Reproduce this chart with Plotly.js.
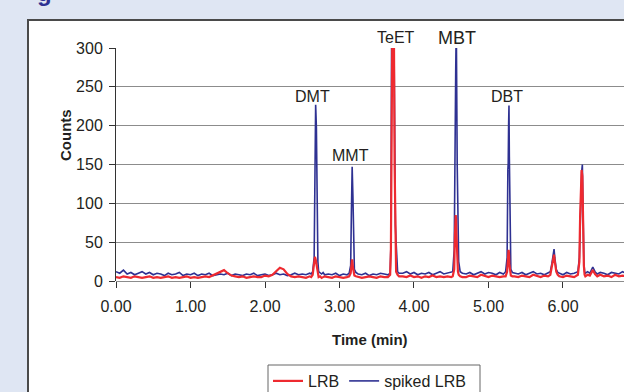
<!DOCTYPE html>
<html>
<head>
<meta charset="utf-8">
<script src="https://cdn.plot.ly/plotly-3.0.1.min.js"></script>
<style>
  html, body { margin:0; padding:0; width:624px; height:392px; overflow:hidden; background:#dfe6f3; }
  #frag { position:absolute; left:37px; top:-19px; font:bold 24px/24px "Liberation Sans", Arial, sans-serif; color:#2e3192; }
  #box { position:absolute; left:27px; top:19px; width:597px; height:373px; border-left:2px solid #4a4a4a; border-top:2px solid #4a4a4a; background:#fff; }
  #chart { width:595px; height:371px; }
</style>
</head>
<body>
<div id="frag">g</div>
<div id="box"><div id="chart"></div></div>
<script>
// Retention time (min)
const time = [
  0.00,0.05,0.10,0.15,0.20,0.25,0.30,0.35,0.40,0.45,0.50,0.55,0.60,0.65,0.70,0.75,0.80,0.85,0.90,0.95,
  1.00,1.05,1.10,1.15,1.20,1.25,1.30,1.35,1.40,1.45,1.50,1.55,1.60,1.65,1.70,1.75,1.80,1.85,1.90,1.95,
  2.00,2.05,2.10,2.15,2.20,2.25,2.30,2.35,2.40,2.45,2.50,2.55,2.60,
  2.62,2.64,2.66,2.67,2.68,2.69,2.70,2.71,2.72,2.74,2.76,2.78,2.80,
  2.85,2.90,2.95,3.00,3.05,3.10,
  3.13,3.15,3.16,3.17,3.18,3.19,3.20,3.22,3.25,
  3.30,3.35,3.40,3.45,3.50,3.55,3.60,3.65,
  3.68,3.69,3.70,3.71,3.72,3.73,3.74,3.75,3.76,3.78,3.80,
  3.85,3.90,3.95,4.00,4.05,4.10,4.15,4.20,4.25,4.30,4.35,4.40,4.45,4.50,
  4.52,4.54,4.55,4.56,4.565,4.57,4.58,4.59,4.60,4.62,4.65,
  4.70,4.75,4.80,4.85,4.90,4.95,5.00,5.05,5.10,5.15,5.20,
  5.23,5.25,5.26,5.265,5.27,5.275,5.28,5.29,5.30,5.32,
  5.35,5.40,5.45,5.50,5.55,5.60,5.65,5.70,5.75,5.80,
  5.83,5.85,5.87,5.88,5.89,5.91,5.93,
  5.95,6.00,6.05,6.10,6.15,6.20,
  6.22,6.23,6.24,6.25,6.26,6.27,6.28,6.29,6.30,
  6.33,6.36,6.40,6.43,6.46,6.50,6.55,6.60,6.65,6.70,6.75,6.80,6.85
];
// Counts, spiked LRB (blue)
const spikedLRB = [
  12,10,14,9,11,8,10,12,9,11,8,10,9,7,10,8,9,11,7,9,
  8,10,7,9,8,10,7,8,9,8,10,7,9,8,7,9,8,10,7,8,
  9,7,8,10,8,9,7,8,10,8,9,8,10,
  9,12,30,120,227,197,60,25,12,10,9,11,8,
  9,8,10,7,9,8,
  10,20,90,147,110,40,15,11,9,
  8,10,7,9,8,10,9,8,
  10,45,330,345,345,335,160,72,50,12,10,
  10,12,9,11,8,10,9,11,8,10,12,9,10,11,
  12,40,263,270,310,300,150,57,25,12,10,
  9,11,8,10,12,9,11,10,8,11,9,
  12,30,143,152,200,226,160,50,15,11,
  10,9,11,8,10,12,9,10,8,11,
  12,22,38,41,30,15,11,
  10,8,11,9,10,12,
  30,83,120,140,150,80,25,12,10,
  12,10,18,12,9,11,10,8,11,10,9,12,10
];
// Counts, LRB (red)
const LRB = [
  5,4,6,5,4,6,5,4,5,6,4,5,4,5,6,4,5,4,5,6,
  4,5,4,5,6,5,7,9,11,14,10,7,6,5,6,4,5,6,5,5,
  7,6,8,13,17,15,9,6,5,6,5,4,6,
  5,8,20,31,28,22,12,7,5,6,4,5,6,
  5,4,6,5,4,5,
  6,10,22,28,18,10,7,6,5,
  4,5,6,5,4,6,5,5,
  8,40,320,340,340,330,150,30,12,8,6,
  6,5,7,5,6,4,6,5,7,5,6,5,6,5,
  6,15,60,85,80,60,30,12,8,6,5,
  5,7,6,5,8,6,5,7,6,5,6,
  6,12,25,35,40,36,22,10,7,6,
  6,5,7,6,5,8,6,5,7,6,
  8,18,30,34,25,12,8,
  6,5,7,6,5,8,
  25,83,110,143,135,70,20,8,6,
  8,7,14,9,6,8,6,7,5,8,6,7,6
];
const xTickVals = [0,1,2,3,4,5,6];
const xTickText = ["0.00","1.00","2.00","3.00","4.00","5.00","6.00"];
const yTickVals = [0,50,100,150,200,250,300];
const peakNames = ["DMT","MMT","TeET","MBT","DBT"];

const FONT = '"Liberation Sans", Arial, sans-serif';
const TXT = '#231f20';

const traces = [
  {x: time, y: spikedLRB, name: 'spiked LRB', type: 'scatter', mode: 'lines',
   line: {color: '#2e3192', width: 1.6}},
  {x: time, y: LRB, name: 'LRB', type: 'scatter', mode: 'lines',
   line: {color: '#ee2a30', width: 2.2}}
];

// label placement: [x (data), y, yref, font size]
const peakPos = [[2.644,238,'y',16],[3.154,162,'y',16],[3.758,1.047,'paper',16],[4.577,1.043,'paper',18],[5.248,237,'y',16]];
const annotations = peakNames.map((n,i) => ({
  text: n, x: peakPos[i][0], y: peakPos[i][1], xref: 'x', yref: peakPos[i][2], showarrow: false,
  xanchor: 'center', yanchor: 'middle',
  font: {family: FONT, size: peakPos[i][3], color: TXT}
}));
annotations.push({text: '<b>Time (min)</b>', xref: 'paper', yref: 'paper', x: 0.5, y: -0.249,
  xanchor: 'center', yanchor: 'middle',
  showarrow: false, font: {family: FONT, size: 15, color: TXT}});
annotations.push({text: '<b>Counts</b>', xref: 'paper', yref: 'paper', x: -0.1004, y: 0.6266,
  xanchor: 'center', yanchor: 'middle',
  textangle: -90, showarrow: false, font: {family: FONT, size: 15, color: TXT}});

const layout = {
  width: 595, height: 371,
  margin: {l: 87, r: 0, t: 27, b: 111, autoexpand: false},
  paper_bgcolor: '#ffffff', plot_bgcolor: '#ffffff',
  font: {family: FONT, size: 16, color: TXT},
  showlegend: true,
  legend: {orientation: 'h', xref: 'container', yref: 'container',
    x: (239)/595, xanchor: 'left', y: (371-360)/371, yanchor: 'middle',
    traceorder: 'reversed', borderwidth: 0, bgcolor: 'rgba(0,0,0,0)',
    font: {family: FONT, size: 16, color: TXT}},
  shapes: [{type: 'rect', xref: 'paper', yref: 'paper',
    x0: (268-116)/508, x1: (480-116)/508, y0: (281-365)/233, y1: (281-420)/233,
    line: {color: '#666666', width: 1}, fillcolor: 'rgba(0,0,0,0)', layer: 'below'}],
  xaxis: {range: [0, 6.819], tickvals: xTickVals, ticktext: xTickText, automargin: false,
    showgrid: false, zeroline: false, showline: false,
    ticks: 'outside', ticklen: 6, tickcolor: '#333', ticklabelstandoff: 5,
    tickfont: {size: 16, color: TXT}},
  yaxis: {range: [0, 300], tickvals: yTickVals, automargin: false,
    showgrid: true, gridcolor: '#8c8c8c', gridwidth: 1,
    zeroline: true, zerolinecolor: '#8c8c8c', zerolinewidth: 1,
    showline: true, linecolor: '#333', linewidth: 1,
    ticks: 'outside', ticklen: 6, tickcolor: '#333', ticklabelstandoff: 3,
    tickfont: {size: 16, color: TXT}},
  annotations: annotations
};

Plotly.newPlot('chart', traces, layout, {staticPlot: true, displayModeBar: false});
</script>
</body>
</html>
